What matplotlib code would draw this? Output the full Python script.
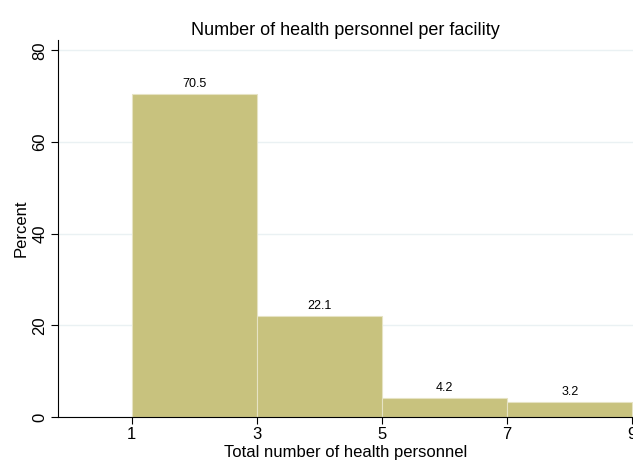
import matplotlib
matplotlib.use('Agg')
import matplotlib.pyplot as plt

plt.rcParams['font.family'] = ['Liberation Sans', 'DejaVu Sans']

bin_edges = [1, 3, 5, 7, 9]
percents = [70.5, 22.1, 4.2, 3.2]
bar_labels = ['70.5', '22.1', '4.2', '3.2']
x_ticks = [1, 3, 5, 7, 9]
y_ticks = [0, 20, 40, 60, 80]

fig = plt.figure(figsize=(6.33, 4.62), dpi=100)
ax = fig.add_axes([0.0916, 0.0974, 0.9084, 0.8156])

lefts = bin_edges[:-1]
widths = [b - a for a, b in zip(bin_edges[:-1], bin_edges[1:])]
bars = ax.bar(lefts, percents, width=widths, align='edge', color='#c8c27e',
              edgecolor='#e6e3c4', linewidth=0.8, zorder=2)
for bar, lab in zip(bars, bar_labels):
    ax.annotate(lab, (bar.get_x() + bar.get_width() / 2, bar.get_height()),
                xytext=(0, 3), textcoords='offset points', ha='center', va='bottom',
                fontsize=9)

ax.set_xlim(-0.18, 9.01)
ax.set_ylim(0, 82.2)
ax.set_xticks(x_ticks)
ax.set_yticks(y_ticks)
ax.set_yticklabels([str(v) for v in y_ticks], rotation=90, va='center')
ax.tick_params(labelsize=12, length=5, width=0.8, pad=2.5)
ax.yaxis.grid(True, color='#eaf1f3', linewidth=1, zorder=0)
ax.set_axisbelow(True)
for s in ['top', 'right']:
    ax.spines[s].set_visible(False)
ax.spines['left'].set_linewidth(0.8)
ax.spines['bottom'].set_linewidth(0.8)

ax.set_xlabel('Total number of health personnel', fontsize=12, labelpad=1.5)
ax.set_ylabel('Percent', fontsize=12, labelpad=3)
ax.set_title('Number of health personnel per facility', fontsize=13, pad=4)

plt.savefig('out.png', dpi=100)
plt.close()
